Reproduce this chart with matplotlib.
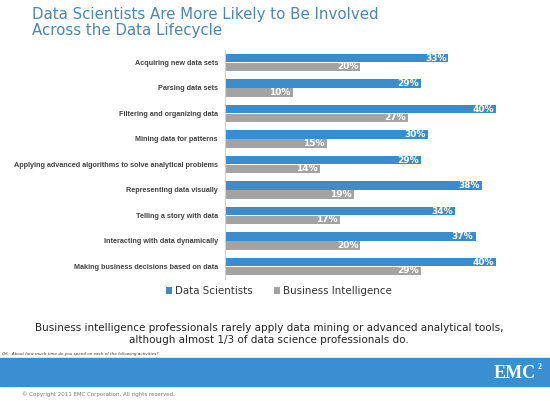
import numpy as np
import matplotlib.pyplot as plt
from matplotlib.patches import Rectangle

activities = ["Acquiring new data sets", "Parsing data sets", "Filtering and organizing data",
              "Mining data for patterns", "Applying advanced algorithms to solve analytical problems",
              "Representing data visually", "Telling a story with data",
              "Interacting with data dynamically", "Making business decisions based on data"]
data_scientists = [33, 29, 40, 30, 29, 38, 34, 37, 40]
business_intel = [20, 10, 27, 15, 14, 19, 17, 20, 29]

BLUE = "#3a8ccc"
GREY = "#a3a3a3"

fig = plt.figure(figsize=(5.5, 4.01), dpi=100)
W, H = 550, 401

ax = fig.add_axes([225 / W, 1 - 279.25 / H, 325 / W, 229.5 / H])
y = np.arange(len(activities))
h = 0.33
ax.barh(y - 0.17, data_scientists, height=h, color=BLUE, label="Data Scientists")
ax.barh(y + 0.17, business_intel, height=h, color=GREY, label="Business Intelligence")
ax.set_xlim(0, 48)
ax.set_ylim(len(activities) - 0.5, -0.5)
for s in ["top", "right", "bottom"]:
    ax.spines[s].set_visible(False)
ax.spines["left"].set_color("#d0d0d0")
ax.set_xticks([])
ax.set_yticks(y)
ax.set_yticklabels(activities, fontsize=5.2, fontweight="bold", color="#404040",
                   family="Liberation Sans")
ax.tick_params(axis="y", length=0, pad=5)

for i in range(len(activities)):
    ax.text(data_scientists[i] - 0.3, i - 0.17, f"{data_scientists[i]}%", ha="right", va="center",
            color="white", fontsize=6.5, fontweight="bold")
    ax.text(business_intel[i] - 0.3, i + 0.17, f"{business_intel[i]}%", ha="right", va="center",
            color="white", fontsize=6.5, fontweight="bold")

fig.legend(loc="center", bbox_to_anchor=(279 / W, 1 - 291 / H), ncol=2, frameon=False,
           fontsize=7.4, handlelength=0.6, handleheight=0.6, columnspacing=2.0, handletextpad=0.3,
           labelcolor="#333333")

fig.text(32 / W, 1 - 15 / H, "Data Scientists Are More Likely to Be Involved", fontsize=10.8,
         color="#4a86b4", va="center")
fig.text(32 / W, 1 - 30 / H, "Across the Data Lifecycle", fontsize=10.8, color="#4a86b4", va="center")

fig.text(269 / W, 1 - 334 / H,
         "Business intelligence professionals rarely apply data mining or advanced analytical tools,\n"
         "although almost 1/3 of data science professionals do.",
         fontsize=7.45, ha="center", va="center", color="#222222", linespacing=1.2)
fig.text(2 / W, 1 - 354 / H, "Q6 : About how much time do you spend on each of the following activities?",
         fontsize=3, style="italic", va="center", color="#333333")

fig.patches.append(Rectangle((0, 1 - 386 / H), 1, 28 / H, transform=fig.transFigure,
                             color="#3a8fd0", zorder=0))
fig.text(515 / W, 1 - 374 / H, "EMC", fontsize=13, fontweight="bold", family="Liberation Serif",
         color="white", ha="center", va="center")
fig.text(540 / W, 1 - 367 / H, "2", fontsize=5.5, fontweight="bold", family="Liberation Serif",
         color="white", ha="center", va="center")
fig.text(22 / W, 1 - 394 / H, "© Copyright 2011 EMC Corporation. All rights reserved.", fontsize=4,
         color="#777777", va="center")

fig.savefig("out.png", dpi=100)
